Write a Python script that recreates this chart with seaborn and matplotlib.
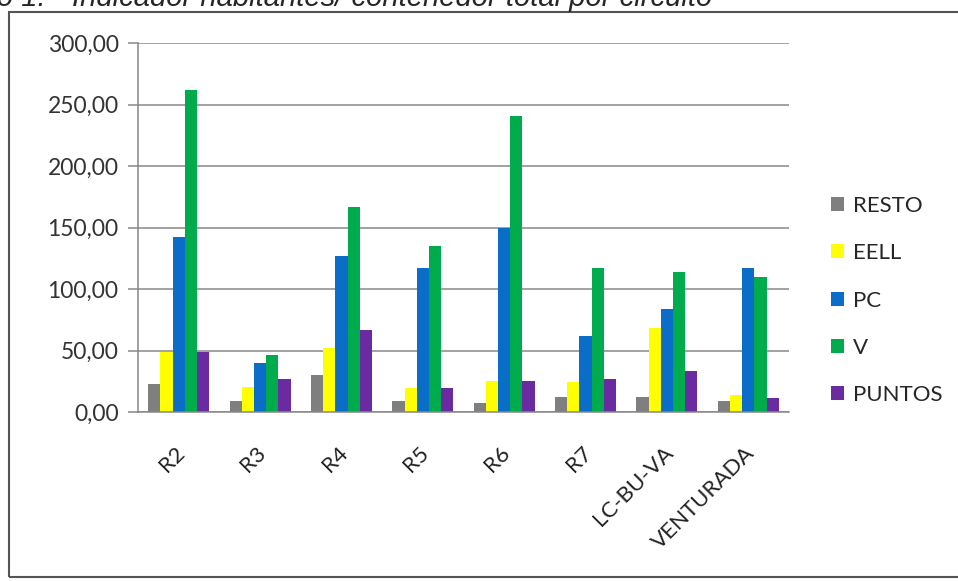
import numpy as np
import pandas as pd
import seaborn as sns
import matplotlib.pyplot as plt
import matplotlib.transforms as mtransforms
from matplotlib.patches import Rectangle
from matplotlib.ticker import FuncFormatter

# values
circuitos = ["R2", "R3", "R4", "R5", "R6", "R7", "LC-BU-VA", "VENTURADA"]
series = ["RESTO", "EELL", "PC", "V", "PUNTOS"]
resto = [23, 9, 30, 9, 7, 12, 12, 9]
eell = [49, 20, 52, 19.5, 25, 24, 68, 14]
pc = [142, 40, 127, 117, 150, 62, 84, 117]
v = [262, 46, 167, 135, 241, 117, 114, 110]
puntos = [49, 27, 67, 19.5, 25, 27, 33, 11]
colores = ["#7f7f7f", "#ffff00", "#0a6ec8", "#00ab4e", "#6a2aa0"]

df = pd.DataFrame({"circuito": circuitos, "RESTO": resto, "EELL": eell,
                   "PC": pc, "V": v, "PUNTOS": puntos})
df_long = df.melt(id_vars="circuito", var_name="serie", value_name="valor")

sns.set_style("white")
plt.rcParams["font.family"] = ["Lato", "DejaVu Sans"]

fig = plt.figure(figsize=(9.58, 5.81), dpi=100)
ax = fig.add_axes([138 / 958, 169 / 581, 651 / 958, 369 / 581])

sns.barplot(data=df_long, x="circuito", y="valor", hue="serie",
            hue_order=series, palette=colores, width=0.75, gap=0,
            saturation=1, edgecolor="none", ax=ax)

ax.set_ylim(0, 300)
ax.set_xlim(-0.5, len(circuitos) - 0.5)
ax.set_yticks(np.arange(0, 301, 50))
ax.yaxis.set_major_formatter(FuncFormatter(lambda y, p: f"{y:.2f}".replace(".", ",")))
ax.yaxis.grid(True, color="#878787", linewidth=1.1)
ax.set_axisbelow(True)
ax.set_xlabel("")
ax.set_ylabel("")

for s in ["top", "right"]:
    ax.spines[s].set_visible(False)
for s in ["left", "bottom"]:
    ax.spines[s].set_color("#878787")
    ax.spines[s].set_linewidth(1.1)

ax.set_xticks(np.arange(-0.5, len(circuitos)), minor=True)
ax.tick_params(axis="x", which="major", length=0, pad=22)
ax.tick_params(axis="x", which="minor", length=8, color="#878787", width=1.1)
ax.tick_params(axis="y", length=7, color="#878787", width=1.1, labelsize=16.5,
               labelcolor="#333333", left=True, pad=7)
ax.set_xticks(range(len(circuitos)))
ax.set_xticklabels(circuitos, rotation=45, ha="right", rotation_mode="anchor",
                   fontsize=16, color="#222222")
shift = mtransforms.ScaledTranslation(-4 / 100, 0, fig.dpi_scale_trans)
for lbl in ax.get_xticklabels():
    lbl.set_transform(lbl.get_transform() + shift)

handles, labels = ax.get_legend_handles_labels()
ax.legend(handles, labels, loc="upper left", bbox_to_anchor=(822 / 958, 1 - 187 / 581),
          bbox_transform=fig.transFigure, frameon=False, fontsize=16,
          handlelength=0.6, handleheight=0.6, handletextpad=0.4,
          labelspacing=1.23, borderaxespad=0)

# outer frame of the embedded chart
fig.patches.append(Rectangle((9 / 958, 4 / 581), 1.1, (581 - 12 - 4) / 581,
                             transform=fig.transFigure, fill=False,
                             edgecolor="#555555", linewidth=1.5))

# title of the document, cut by the top of the picture
fig.text(46 / 958, 1 - 6 / 581, "Gráfico 1.", fontsize=21, style="italic",
         family="Liberation Sans", va="baseline", ha="right")
fig.text(72 / 958, 1 - 6 / 581, "Indicador habitantes/ contenedor total por circuito",
         fontsize=21, style="italic", family="Liberation Sans", va="baseline", ha="left")

fig.savefig("out.png", dpi=100)
